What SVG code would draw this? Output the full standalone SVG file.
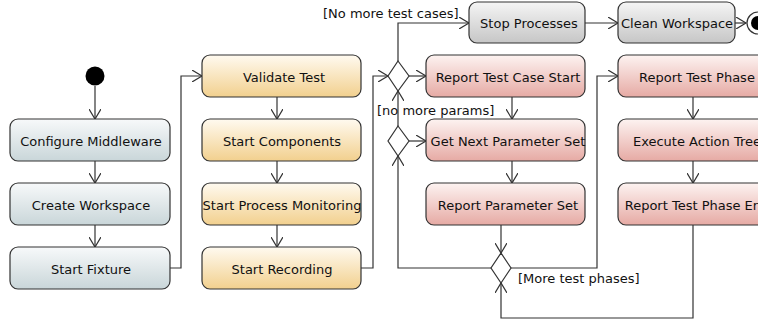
<svg xmlns="http://www.w3.org/2000/svg" width="758" height="322" viewBox="0 0 758 322">
<defs>
<linearGradient id="gBlue" x1="0" y1="0" x2="0" y2="1"><stop offset="0" stop-color="#f7f9fa"/><stop offset="1" stop-color="#c9d6d9"/></linearGradient>
<linearGradient id="gYel" x1="0" y1="0" x2="0" y2="1"><stop offset="0" stop-color="#fffaf0"/><stop offset="1" stop-color="#f2d08e"/></linearGradient>
<linearGradient id="gRed" x1="0" y1="0" x2="0" y2="1"><stop offset="0" stop-color="#fdf3f1"/><stop offset="1" stop-color="#e6aaa4"/></linearGradient>
<linearGradient id="gGrey" x1="0" y1="0" x2="0" y2="1"><stop offset="0" stop-color="#f5f5f5"/><stop offset="1" stop-color="#c6c6c6"/></linearGradient>
<marker id="arr" markerWidth="12" markerHeight="12" refX="10" refY="6" orient="auto" markerUnits="userSpaceOnUse">
<path d="M0,0 L10,6 L0,12" fill="none" stroke="#333" stroke-width="1.2"/>
</marker>
</defs>
<style>
.box{stroke:#333;stroke-width:1.2}
.b{fill:url(#gBlue)}.y{fill:url(#gYel)}.r{fill:url(#gRed)}.g{fill:url(#gGrey)}
text{font-family:"DejaVu Sans",sans-serif;font-size:13px;fill:#111}
.c{text-anchor:middle}
.ln{fill:none;stroke:#333;stroke-width:1.2}
.dia{fill:#fff;stroke:#333;stroke-width:1.2}
</style>
<g id="connectors">
<path class="ln" d="M95,86 V119" marker-end="url(#arr)"/>
<path class="ln" d="M95,161 V183" marker-end="url(#arr)"/>
<path class="ln" d="M95,225 V247" marker-end="url(#arr)"/>
<path class="ln" d="M170,268 H181 V76 H202" marker-end="url(#arr)"/>
<path class="ln" d="M277,97 V119" marker-end="url(#arr)"/>
<path class="ln" d="M277,161 V183" marker-end="url(#arr)"/>
<path class="ln" d="M277,225 V247" marker-end="url(#arr)"/>
<path class="ln" d="M361,268 H373 V76 H388" marker-end="url(#arr)"/>
<path class="ln" d="M409,76 H426" marker-end="url(#arr)"/>
<path class="ln" d="M398,61 V23 H469" marker-end="url(#arr)"/>
<path class="ln" d="M585,23 H618" marker-end="url(#arr)"/>
<path class="ln" d="M735,23 H746" marker-end="url(#arr)"/>
<path class="ln" d="M398,126 V91" marker-end="url(#arr)"/>
<path class="ln" d="M409,141 H426" marker-end="url(#arr)"/>
<path class="ln" d="M512,97 V119" marker-end="url(#arr)"/>
<path class="ln" d="M512,161 V183" marker-end="url(#arr)"/>
<path class="ln" d="M501,225 V253" marker-end="url(#arr)"/>
<path class="ln" d="M491,268 H398 V156" marker-end="url(#arr)"/>
<path class="ln" d="M511,268 H597 V76 H618" marker-end="url(#arr)"/>
<path class="ln" d="M693,97 V119" marker-end="url(#arr)"/>
<path class="ln" d="M693,161 V183" marker-end="url(#arr)"/>
<path class="ln" d="M693,225 V318 H501 V283" marker-end="url(#arr)"/>
<text x="323" y="18">[No more test cases]</text>
<text x="377" y="115">[no more params]</text>
<text x="518" y="283">[More test phases]</text>
</g>
<g id="start"><circle cx="95" cy="76" r="9.5" fill="#000"/></g>
<g id="configureMiddleware"><rect class="box b" x="10" y="119" width="160" height="42" rx="8"/><text class="c" x="91" y="146">Configure Middleware</text></g>
<g id="createWorkspace"><rect class="box b" x="10" y="183" width="160" height="42" rx="8"/><text class="c" x="91" y="210">Create Workspace</text></g>
<g id="startFixture"><rect class="box b" x="10" y="247" width="160" height="42" rx="8"/><text class="c" x="91" y="274">Start Fixture</text></g>
<g id="validateTest"><rect class="box y" x="202" y="55" width="159" height="42" rx="8"/><text class="c" x="284" y="82">Validate Test</text></g>
<g id="startComponents"><rect class="box y" x="202" y="119" width="159" height="42" rx="8"/><text class="c" x="282" y="146">Start Components</text></g>
<g id="startProcessMonitoring"><rect class="box y" x="202" y="183" width="159" height="42" rx="8"/><text class="c" x="282" y="210">Start Process Monitoring</text></g>
<g id="startRecording"><rect class="box y" x="202" y="247" width="159" height="42" rx="8"/><text class="c" x="282" y="274">Start Recording</text></g>
<g id="decision1"><path class="dia" d="M398,61 L409,76 L398,91 L388,76 Z"/></g>
<g id="decision2"><path class="dia" d="M398,126 L409,141 L398,156 L388,141 Z"/></g>
<g id="decision3"><path class="dia" d="M501,253 L511,268 L501,283 L491,268 Z"/></g>
<g id="stopProcesses"><rect class="box g" x="469" y="2" width="116" height="41" rx="8"/><text class="c" x="529" y="28">Stop Processes</text></g>
<g id="cleanWorkspace"><rect class="box g" x="618" y="2" width="117" height="41" rx="8"/><text class="c" x="677" y="28">Clean Workspace</text></g>
<g id="end"><circle cx="758" cy="23" r="11" fill="#fff" stroke="#333" stroke-width="1.2"/><circle cx="758" cy="23" r="7" fill="#000"/></g>
<g id="reportTestCaseStart"><rect class="box r" x="426" y="55" width="159" height="42" rx="8"/><text class="c" x="508" y="82">Report Test Case Start</text></g>
<g id="getNextParameterSet"><rect class="box r" x="426" y="119" width="159" height="42" rx="8"/><text class="c" x="508" y="146">Get Next Parameter Set</text></g>
<g id="reportParameterSet"><rect class="box r" x="426" y="183" width="159" height="42" rx="8"/><text class="c" x="508" y="210">Report Parameter Set</text></g>
<g id="reportTestPhase"><rect class="box r" x="618" y="55" width="159" height="42" rx="8"/><text class="c" x="697" y="82">Report Test Phase</text></g>
<g id="executeActionTree"><rect class="box r" x="618" y="119" width="159" height="42" rx="8"/><text class="c" x="697" y="146">Execute Action Tree</text></g>
<g id="reportTestPhaseEnd"><rect class="box r" x="618" y="183" width="159" height="42" rx="8"/><text class="c" x="697" y="210">Report Test Phase End</text></g>
</svg>
